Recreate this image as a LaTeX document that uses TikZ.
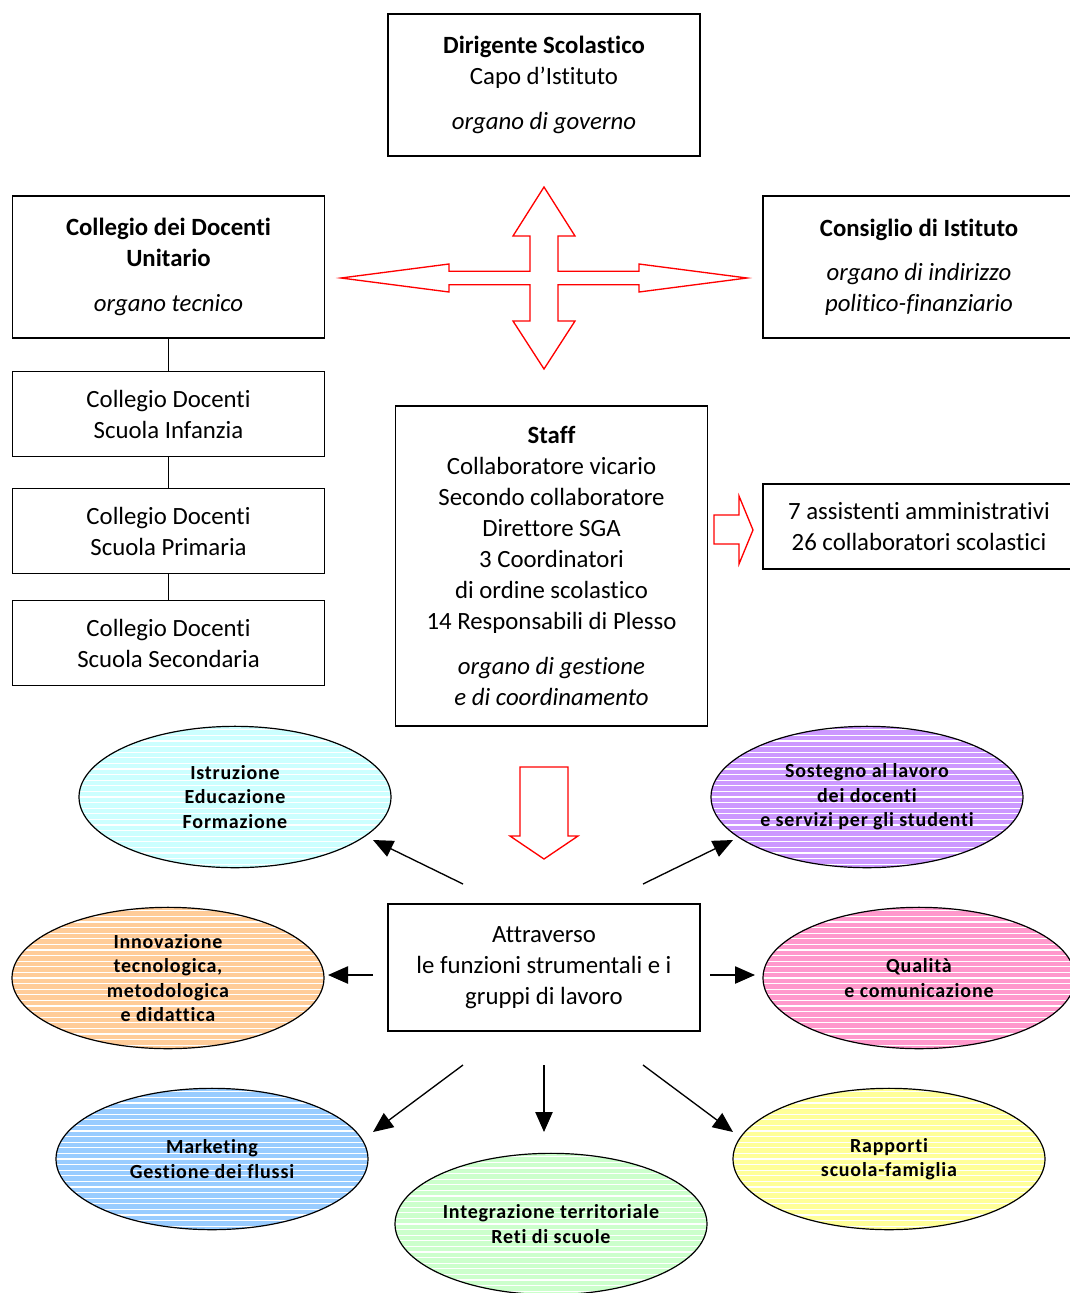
\documentclass[tikz,border=0pt]{standalone}
\usepackage{fontspec}
\setmainfont{Carlito}[Ligatures=NoCommon]
\newfontfamily\spacedfont[LetterSpace=4,Ligatures=NoCommon]{Carlito}
\usetikzlibrary{shapes.geometric,arrows.meta}

\definecolor{ellcyan}{RGB}{204,255,255}
\definecolor{ellpurple}{RGB}{204,153,255}
\definecolor{ellorange}{RGB}{255,204,153}
\definecolor{ellpink}{RGB}{255,153,204}
\definecolor{ellblue}{RGB}{153,204,255}
\definecolor{ellgreen}{RGB}{204,255,204}
\definecolor{ellyellow}{RGB}{255,255,153}

\begin{document}
\begin{tikzpicture}[x=0.75pt,y=-0.75pt,
    box/.style={draw, line width=0.9pt, minimum width=234pt, align=center,
        inner sep=0pt, font=\fontsize{18.6}{23.25}\selectfont},
    bigarrow/.style={draw=red, line width=1pt, fill=white},
    ell/.style={ellipse, draw, line width=0.9pt, fill=#1, minimum width=234pt,
        minimum height=106pt, inner sep=0pt, align=center,
        font=\spacedfont\bfseries\fontsize{15}{18.4}\selectfont,
        path picture={\foreach \k in {-14,...,14}
            \draw[white, line width=0.8pt]
                ([yshift=\k*4.2pt]path picture bounding box.west) --
                ([yshift=\k*4.2pt]path picture bounding box.east);}},
    link/.style={line width=1pt, -{Triangle[length=15pt,width=13pt]}}]
    \useasboundingbox (0,0) rectangle (1070,1293);

    % Dirigente
    \node[box, minimum height=106.5pt] (dirigente) at (544,85)
        {\textbf{Dirigente Scolastico}\\ Capo d’Istituto\\[10pt] \textit{organo di governo}};

    % Collegio and Consiglio
    \node[box, minimum height=106.5pt] (collegio) at (168.5,267)
        {\textbf{Collegio dei Docenti}\\ \textbf{Unitario}\\[10pt] \textit{organo tecnico}};
    \node[box, minimum height=106.5pt] (consiglio) at (919,267)
        {\textbf{Consiglio di Istituto}\\[10pt] \textit{organo di indirizzo}\\ \textit{politico-finanziario}};

    % Cross arrow
    \draw[bigarrow] (544,187) -- (575,236) -- (558,236) -- (558,271.3) -- (639,271.3)
        -- (639,264) -- (747,278) -- (639,292) -- (639,284.7) -- (558,284.7)
        -- (558,321) -- (575,321) -- (544,369) -- (513,321) -- (530,321)
        -- (530,284.7) -- (449,284.7) -- (449,292) -- (341,278) -- (449,264)
        -- (449,271.3) -- (530,271.3) -- (530,236) -- (513,236) -- cycle;

    % Collegio sections
    \node[box, minimum height=63.75pt] (infanzia) at (168.5,414)
        {Collegio Docenti\\ Scuola Infanzia};
    \node[box, minimum height=63.75pt] (primaria) at (168.5,531)
        {Collegio Docenti\\ Scuola Primaria};
    \node[box, minimum height=63.75pt] (secondaria) at (168.5,643)
        {Collegio Docenti\\ Scuola Secondaria};
    \draw[line width=0.9pt] (collegio) -- (infanzia) -- (primaria) -- (secondaria);

    % Staff
    \node[box, minimum height=240pt] (staff) at (551.5,566)
        {\textbf{Staff}\\ Collaboratore vicario\\ Secondo collaboratore\\ Direttore SGA\\
         3 Coordinatori\\ di ordine scolastico\\ 14 Responsabili di Plesso\\[10pt]
         \textit{organo di gestione}\\ \textit{e di coordinamento}};
    \draw[bigarrow] (714,515) -- (739,515) -- (739,496) -- (753,530) -- (739,564)
        -- (739,544) -- (714,544) -- cycle;
    \node[box, minimum height=63.75pt] (assistenti) at (919,526.5)
        {7 assistenti amministrativi\\ 26 collaboratori scolastici};

    % Down arrow
    \draw[bigarrow] (520,767) -- (568,767) -- (568,836) -- (578,836) -- (544,859)
        -- (510,836) -- (520,836) -- cycle;

    % Attraverso
    \node[box, minimum height=95.25pt] (attraverso) at (544,967.5)
        {Attraverso\\ le funzioni strumentali e i\\ gruppi di lavoro};

    % Ellipses
    \node[ell=ellcyan] (istruzione) at (235,797) {Istruzione\\ Educazione\\ Formazione};
    \node[ell=ellpurple] (sostegno) at (867,797) {Sostegno al lavoro\\ dei docenti\\ e servizi per gli studenti};
    \node[ell=ellorange] (innovazione) at (168,978) {Innovazione\\ tecnologica,\\ metodologica\\ e didattica};
    \node[ell=ellpink] (qualita) at (919,978) {Qualità\\ e comunicazione};
    \node[ell=ellblue] (marketing) at (212,1159) {Marketing\\ Gestione dei flussi};
    \node[ell=ellgreen] (integrazione) at (551,1224) {Integrazione territoriale\\ Reti di scuole};
    \node[ell=ellyellow] (rapporti) at (889,1159) {Rapporti\\ scuola-famiglia};

    % Arrow ends
    \coordinate (s1) at (463,884);  \coordinate (e1) at (373,840);
    \coordinate (s2) at (643,884);  \coordinate (e2) at (733,840);
    \coordinate (s3) at (373,975);  \coordinate (e3) at (328,975);
    \coordinate (s4) at (710,975);  \coordinate (e4) at (755,975);
    \coordinate (s5) at (463,1065); \coordinate (e5) at (373,1132);
    \coordinate (s6) at (544,1065); \coordinate (e6) at (544,1132);
    \coordinate (s7) at (643,1065); \coordinate (e7) at (733,1132);
    \foreach \i in {1,...,7}
        \draw[link] (s\i) -- (e\i);

\end{tikzpicture}
\end{document}
